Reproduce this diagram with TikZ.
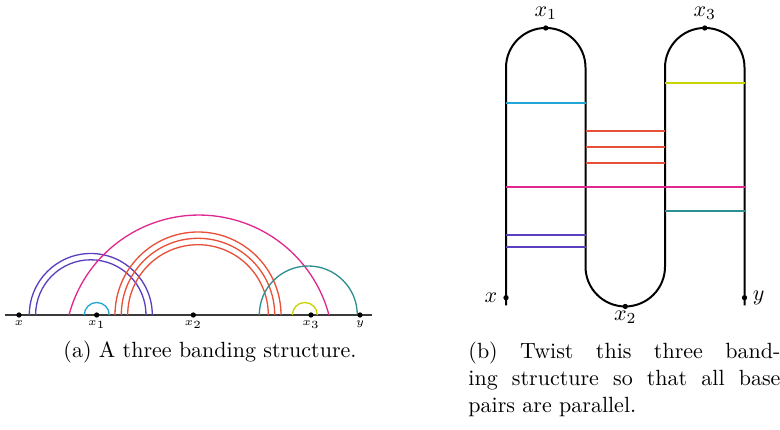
\documentclass[tikz,border=0pt]{standalone}
\usepackage{amsmath}
\usetikzlibrary{positioning}
\definecolor{bandpurple}{HTML}{5B3FBF}
\definecolor{bandcyan}{HTML}{22A6D6}
\definecolor{bandred}{HTML}{E8503A}
\definecolor{bandmagenta}{HTML}{E0288E}
\definecolor{bandteal}{HTML}{2E8F8F}
\definecolor{bandlime}{HTML}{C8D400}
\definecolor{backbone}{HTML}{3A3A3A}

\begin{document}
\begin{tikzpicture}[x=0.4545pt,y=0.4545pt,
  dot/.style={circle,fill=black,inner sep=0pt,minimum size=2.4pt},
  tinylab/.style={font=\tiny,inner sep=0pt,text height=2.2pt,text depth=0.8pt},
  lab/.style={inner sep=0pt},
  arcpair/.style={line width=0.6pt},
  pair/.style={line width=0.75pt},
  strand/.style={black,line width=0.9pt}]
\useasboundingbox (0,0) rectangle (780,429);
% (a) the arc diagram
\coordinate (lstart) at (5,114);
\coordinate (lend) at (372,114);
\draw[backbone,line width=0.9pt] (lstart) -- (lend);
\draw[bandpurple,arcpair] (29.3,114) arc[start angle=180,end angle=0,radius=61.5];
\draw[bandpurple,arcpair] (35.6,114) arc[start angle=180,end angle=0,radius=55.2];
\draw[bandcyan,arcpair] (84.3,114) arc[start angle=180,end angle=0,radius=12.5];
\draw[bandmagenta,arcpair] (69,114) arc[start angle=165.1,end angle=14.9,radius=134.5];
\draw[bandred,arcpair] (115,114) arc[start angle=180,end angle=0,radius=83];
\draw[bandred,arcpair] (121.3,114) arc[start angle=180,end angle=0,radius=76.7];
\draw[bandred,arcpair] (127.7,114) arc[start angle=180,end angle=0,radius=70.3];
\draw[bandteal,arcpair] (259.3,114) arc[start angle=180,end angle=0,radius=49];
\draw[bandlime,arcpair] (292.3,114) arc[start angle=180,end angle=0,radius=12.5];
\node[dot] (a-x) at (19,114) {};
\node[dot] (a-x1) at (96.7,114) {};
\node[dot] (a-x2) at (193.3,114) {};
\node[dot] (a-x3) at (311,114) {};
\node[dot] (a-y) at (360,114) {};
\node[tinylab,below=0.9pt of a-x] (a-xlab) {$x$};
\node[tinylab,below=0.9pt of a-x1] (a-x1lab) {$x_1$};
\node[tinylab,below=0.9pt of a-x2] (a-x2lab) {$x_2$};
\node[tinylab,below=0.9pt of a-x3] (a-x3lab) {$x_3$};
\node[tinylab,below=0.9pt of a-y] (a-ylab) {$y$};
\node[inner sep=0pt] (capa) at (210,77) {(a) A three banding structure.};
% (b) the twisted strand
\draw[strand] (506,123.5) -- (506,361.3) arc[start angle=180,end angle=0,radius=39.75]
  -- (585.5,162.3) arc[start angle=180,end angle=360,radius=39.75]
  -- (665,361.3) arc[start angle=180,end angle=0,radius=39.75] -- (744.5,123.5);
\draw[bandcyan,pair] (506,326) -- (585.5,326);
\draw[bandlime,pair] (665,346) -- (744.5,346);
\draw[bandred,pair] (585.5,298) -- (665,298);
\draw[bandred,pair] (585.5,282.3) -- (665,282.3);
\draw[bandred,pair] (585.5,266.3) -- (665,266.3);
\draw[bandmagenta,pair] (506,242.3) -- (744.5,242.3);
\draw[bandteal,pair] (665,218.3) -- (744.5,218.3);
\draw[bandpurple,pair] (506,194.3) -- (585.5,194.3);
\draw[bandpurple,pair] (506,182.3) -- (585.5,182.3);
\node[dot] (b-x) at (506,131.3) {};
\node[dot] (b-x1) at (545.75,401) {};
\node[dot] (b-x2) at (625.25,122.55) {};
\node[dot] (b-x3) at (704.75,401) {};
\node[dot] (b-y) at (744.5,131.3) {};
\node[lab,left=2.4pt of b-x] (b-xlab) {$x$};
\node[lab,above=2.3pt of b-x1] (b-x1lab) {$x_1$};
\node[lab,below=0.4pt of b-x2] (b-x2lab) {$x_2$};
\node[lab,above=2.3pt of b-x3] (b-x3lab) {$x_3$};
\node[lab,right=2.2pt of b-y] (b-ylab) {$y$};
\node[anchor=north west,inner sep=0pt,text width=141.8pt,align=justify,
  font=\fontsize{10}{12.3}\selectfont] (capb) at (468,87.8)
  {\noindent(b) Twist this three band-\linebreak ing structure so that all base\linebreak pairs are parallel.};
\end{tikzpicture}
\end{document}
